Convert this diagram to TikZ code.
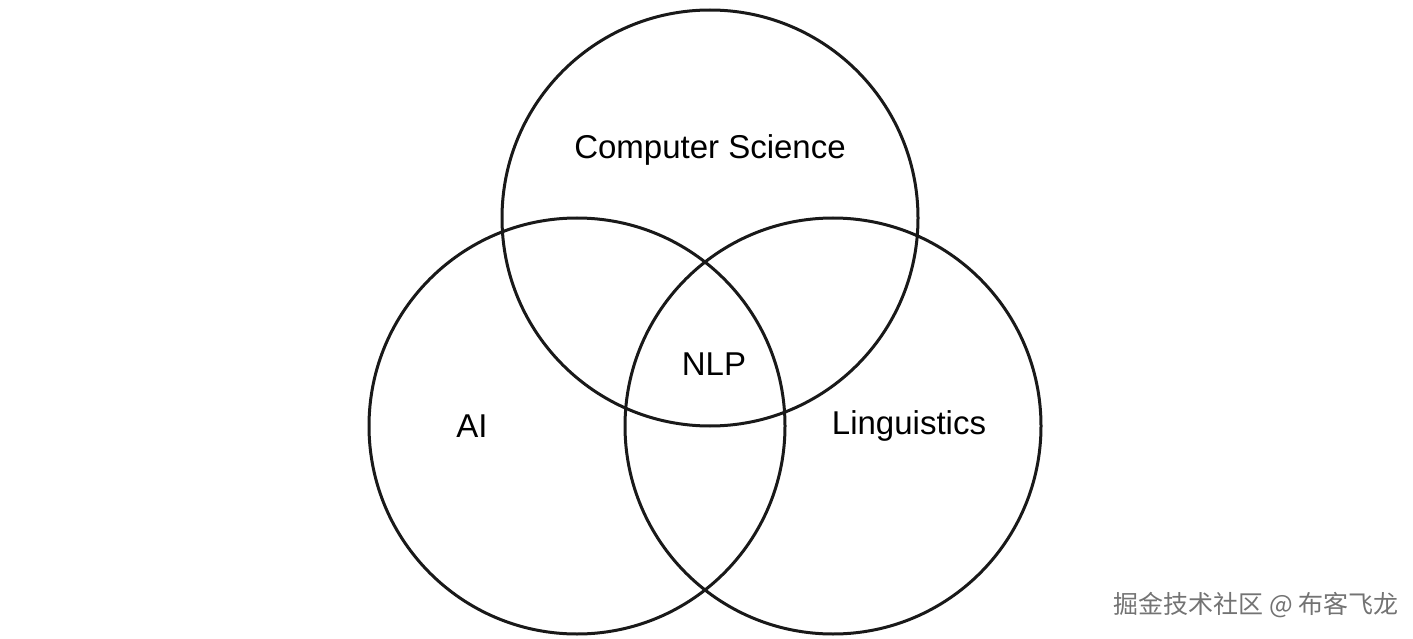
\documentclass[tikz,border=0pt]{standalone}
\usepackage{fontspec}
\setmainfont{Liberation Sans}
\newfontfamily\cjk{Noto Sans CJK SC}
\begin{document}
\begin{tikzpicture}[x=1pt,y=-1pt,
  ring/.style={draw=black!90,line width=3pt},
  lbl/.style={font=\fontsize{33}{36}\selectfont}]
\useasboundingbox (0,0) rectangle (1413,639);
\node[ring,circle,minimum size=416pt,inner sep=0pt] (cs) at (710,218) {};
\node[ring,circle,minimum size=416pt,inner sep=0pt] (ai) at (577,426) {};
\node[ring,circle,minimum size=416pt,inner sep=0pt] (li) at (833,426) {};
\node[lbl] (tcs) at (710,150) {Computer Science};
\node[lbl] (tnlp) at (714,364) {NLP};
\node[lbl] (tai) at (472,426) {AI};
\node[lbl] (tli) at (909,426) {Linguistics};
\node[font=\cjk\fontsize{25}{28}\selectfont,text=black!55,anchor=east] (wm) at (1402,605) {掘金技术社区 @ 布客飞龙};
\end{tikzpicture}
\end{document}
